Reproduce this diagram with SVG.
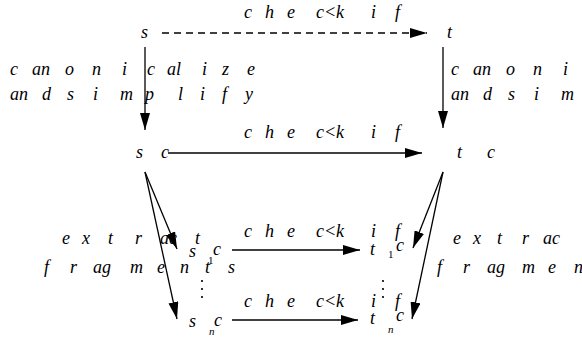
<svg xmlns="http://www.w3.org/2000/svg" width="582" height="342" viewBox="0 0 582 342">
<style>
text{font-family:'Liberation Serif','DejaVu Serif','Times New Roman',serif;fill:#000}
.l{font-style:italic;font-size:18px}
.sub{font-size:11px}
.subi{font-style:italic;font-size:11px}
.c{stroke:#000;stroke-width:1.3;fill:none;marker-end:url(#ah)}
.d{stroke-dasharray:7 5}
</style>
<defs>
<marker id="ah" viewBox="0 0 17 10" markerWidth="17" markerHeight="10" refX="17" refY="5" orient="auto" markerUnits="userSpaceOnUse">
<path d="M0,0 L17,5 L0,10 z" fill="#000"/>
</marker>
</defs>
<rect width="582" height="342" fill="#fff"/>
<g id="connectors">
<line class="c d" x1="162" y1="33" x2="427" y2="33"/>
<line class="c" x1="168" y1="153" x2="422" y2="153"/>
<line class="c" x1="145" y1="47" x2="145" y2="130"/>
<line class="c" x1="443" y1="47" x2="443" y2="128"/>
<line class="c" x1="145" y1="172" x2="177" y2="249"/>
<line class="c" x1="145" y1="172" x2="177" y2="319"/>
<line class="c" x1="443" y1="172" x2="413" y2="248"/>
<line class="c" x1="443" y1="172" x2="412" y2="319"/>
<line class="c" x1="232" y1="250" x2="360" y2="250"/>
<line class="c" x1="232" y1="320" x2="358" y2="320"/>
<g id="labels">
<text class="l" y="18"><tspan x="244">c</tspan> <tspan x="265">h</tspan> <tspan x="287">e</tspan> <tspan x="316">c&lt;</tspan><tspan x="336">k</tspan> <tspan x="371">i</tspan> <tspan x="395">f</tspan></text>
<text class="l" y="138"><tspan x="244">c</tspan> <tspan x="265">h</tspan> <tspan x="287">e</tspan> <tspan x="316">c&lt;</tspan><tspan x="336">k</tspan> <tspan x="371">i</tspan> <tspan x="395">f</tspan></text>
<text class="l" y="237"><tspan x="244">c</tspan> <tspan x="265">h</tspan> <tspan x="287">e</tspan> <tspan x="316">c&lt;</tspan><tspan x="336">k</tspan> <tspan x="371">i</tspan> <tspan x="395">f</tspan></text>
<text class="l" y="307"><tspan x="244">c</tspan> <tspan x="265">h</tspan> <tspan x="287">e</tspan> <tspan x="316">c&lt;</tspan><tspan x="336">k</tspan> <tspan x="371">i</tspan> <tspan x="395">f</tspan></text>
<text class="l" y="75"><tspan x="10">c</tspan> <tspan x="32">an</tspan> <tspan x="65">o</tspan> <tspan x="92">n</tspan> <tspan x="122">i</tspan> <tspan x="147">c</tspan> <tspan x="167">al</tspan> <tspan x="202">i</tspan> <tspan x="222">z</tspan> <tspan x="247">e</tspan></text>
<text class="l" y="100"><tspan x="10">an</tspan> <tspan x="42">d</tspan> <tspan x="67">s</tspan> <tspan x="93">i</tspan> <tspan x="120">m</tspan><tspan x="145">p</tspan> <tspan x="178">l</tspan> <tspan x="200">i</tspan> <tspan x="222">f</tspan> <tspan x="245">y</tspan></text>
<text class="l" y="75"><tspan x="451">c</tspan> <tspan x="473">an</tspan> <tspan x="506">o</tspan> <tspan x="533">n</tspan> <tspan x="563">i</tspan></text>
<text class="l" y="100"><tspan x="451">an</tspan> <tspan x="483">d</tspan> <tspan x="508">s</tspan> <tspan x="534">i</tspan> <tspan x="561">m</tspan></text>
<text class="l" y="244"><tspan x="62">e</tspan> <tspan x="82">x</tspan> <tspan x="108">t</tspan> <tspan x="135">r</tspan> <tspan x="160">ac</tspan> <tspan x="195">t</tspan></text>
<text class="l" y="273"><tspan x="44">f</tspan> <tspan x="70">r</tspan> <tspan x="93">ag</tspan> <tspan x="130">m</tspan> <tspan x="157">e</tspan> <tspan x="180">n</tspan> <tspan x="205">t</tspan> <tspan x="228">s</tspan></text>
<text class="l" y="244"><tspan x="453">e</tspan> <tspan x="473">x</tspan> <tspan x="497">t</tspan> <tspan x="522">r</tspan> <tspan x="543">ac</tspan></text>
<text class="l" y="273"><tspan x="437">f</tspan> <tspan x="463">r</tspan> <tspan x="487">ag</tspan> <tspan x="522">m</tspan> <tspan x="548">e</tspan> <tspan x="574">n</tspan></text>
</g>
</g>
<g id="s"><text class="l" x="141" y="38">s</text></g>
<g id="t"><text class="l" x="447" y="38">t</text></g>
<g id="sc"><text class="l" y="158"><tspan x="136">s</tspan> <tspan x="161">c</tspan></text></g>
<g id="tc"><text class="l" y="158"><tspan x="457">t</tspan> <tspan x="487">c</tspan></text></g>
<g id="s1c"><text class="l" x="189" y="257">s</text><text class="sub" x="208" y="264">1</text><text class="l" x="213" y="255">c</text></g>
<g id="t1c"><text class="l" x="370" y="255">t</text><text class="sub" x="388" y="258">1</text><text class="l" x="396" y="251">c</text></g>
<g id="snc"><text class="l" x="189" y="327">s</text><text class="subi" x="209" y="335">n</text><text class="l" x="214" y="326">c</text></g>
<g id="tnc"><text class="l" x="370" y="324">t</text><text class="subi" x="388" y="333">n</text><text class="l" x="396" y="321">c</text></g>
<g id="vdots-left"><circle cx="202" cy="281" r="1.1"/><circle cx="202" cy="289" r="1.1"/><circle cx="202" cy="297" r="1.1"/></g>
<g id="vdots-right"><circle cx="383" cy="281" r="1.1"/><circle cx="383" cy="289" r="1.1"/><circle cx="383" cy="297" r="1.1"/></g>
</svg>
